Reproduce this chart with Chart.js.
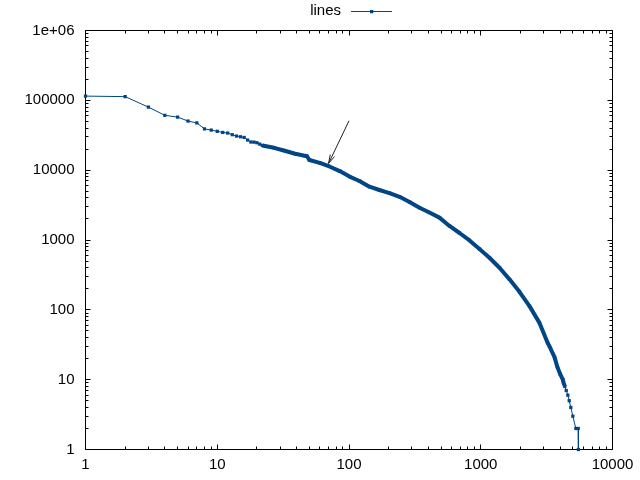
<!DOCTYPE html>
<html>
<head>
<meta charset="utf-8">
<script src="https://cdn.jsdelivr.net/npm/chart.js@4.4.1/dist/chart.umd.min.js"></script>
<style>
  html, body { margin: 0; padding: 0; background: #fff; }
  canvas { display: block; }
</style>
</head>
<body>
<canvas id="rankChart" width="640" height="480"></canvas>
<script>
// --- Data ---
const ranks = [1, 2, 3, 4, 5, 6, 7, 8, 9, 10, 11, 12, 13, 14, 15, 16, 17, 18, 19, 20, 21, 22,
  27, 32, 39, 46, 48, 50, 60, 71, 85, 101, 120, 143, 170, 203, 242, 288,
  343, 408, 486, 579, 690, 822, 978, 1165, 1388, 1653,
  1968, 2344, 2792, 3211, 3325, 3630, 3823, 4009, 4198, 4250,
  4348, 4454, 4582, 4692, 4827, 5000, 5268, 5495, 5510];
const counts = [115000, 113000, 80000, 61000, 57500, 50500, 47500, 39000, 37500, 36000,
  34700, 34000, 32200, 30800, 30100, 29400, 27000, 25300, 25200, 24700, 23600, 22600,
  20900, 19100, 17200, 16100, 15800, 14000, 12700, 11300, 9700, 8100, 7000, 5800, 5200, 4700, 4150, 3500,
  2900, 2470, 2090, 1590, 1260, 985, 745, 557, 401, 273,
  181, 113, 65, 34, 30, 21, 15, 12, 10, 9,
  8, 7, 6, 5, 4, 3, 2, 2, 1];
const xTickValues = [1, 10, 100, 1000, 10000];
const xTickLabels = ["1", "10", "100", "1000", "10000"];
const yTickValues = [1, 10, 100, 1000, 10000, 100000, 1000000];
const yTickLabels = ["1", "10", "100", "1000", "10000", "100000", "1e+06"];
const seriesName = "lines";
const arrowFrom = [100, 51000];
const arrowTo = [70, 12500];

const lineColor = "#004586";
const fontFamily = "'Liberation Sans', Arial, sans-serif";

// --- Frame, inward ticks (major + minor, mirrored), key and arrow ---
const gnuplotDecor = {
  id: "gnuplotDecor",
  beforeDatasetsDraw(chart) {
    const { ctx, chartArea: a, scales: { x, y } } = chart;
    ctx.save();
    ctx.strokeStyle = "#000";
    ctx.lineWidth = 1;
    ctx.beginPath();
    for (let d = 1; d <= x.max; d *= 10) {
      for (let m = 1; m <= 9; m++) {
        const v = m * d;
        if (v > x.max) break;
        const len = m === 1 ? 5 : 3;
        const px = Math.floor(x.getPixelForValue(v)) + 0.5;
        ctx.moveTo(px, a.bottom); ctx.lineTo(px, a.bottom - len);
        ctx.moveTo(px, a.top); ctx.lineTo(px, a.top + len);
      }
    }
    for (let d = 1; d <= y.max; d *= 10) {
      for (let m = 1; m <= 9; m++) {
        const v = m * d;
        if (v > y.max) break;
        const len = m === 1 ? 5 : 3;
        const py = Math.floor(y.getPixelForValue(v)) + 0.5;
        ctx.moveTo(a.left, py); ctx.lineTo(a.left + len, py);
        ctx.moveTo(a.right, py); ctx.lineTo(a.right - len, py);
      }
    }
    ctx.rect(a.left, a.top, a.right - a.left, a.bottom - a.top);
    ctx.stroke();

    // key at top centre: text, then sample line with a point
    ctx.font = "15px " + fontFamily;
    ctx.fillStyle = "#000";
    ctx.textAlign = "right";
    ctx.textBaseline = "middle";
    ctx.fillText(seriesName, 341, 11);
    ctx.strokeStyle = lineColor;
    ctx.beginPath();
    ctx.moveTo(351, 11.5); ctx.lineTo(392, 11.5);
    ctx.stroke();
    ctx.fillStyle = lineColor;
    ctx.fillRect(370, 10, 3.3, 3.3);
    ctx.restore();
  },
  afterDatasetsDraw(chart) {
    const { ctx, scales: { x, y } } = chart;
    const x0 = x.getPixelForValue(arrowFrom[0]), y0 = y.getPixelForValue(arrowFrom[1]);
    const x1 = x.getPixelForValue(arrowTo[0]), y1 = y.getPixelForValue(arrowTo[1]);
    const ang = Math.atan2(y1 - y0, x1 - x0);
    const head = 9, spread = Math.PI / 12;
    ctx.save();
    ctx.strokeStyle = "#222";
    ctx.lineWidth = 1;
    ctx.beginPath();
    ctx.moveTo(x0, y0); ctx.lineTo(x1, y1);
    ctx.moveTo(x1 - head * Math.cos(ang - spread), y1 - head * Math.sin(ang - spread));
    ctx.lineTo(x1, y1);
    ctx.lineTo(x1 - head * Math.cos(ang + spread), y1 - head * Math.sin(ang + spread));
    ctx.stroke();
    ctx.restore();
  }
};

const ctx = document.getElementById("rankChart").getContext("2d");
new Chart(ctx, {
  type: "line",
  data: {
    datasets: [{
      label: seriesName,
      data: ranks.map((r, i) => ({ x: r, y: counts[i] })),
      borderColor: lineColor,
      backgroundColor: lineColor,
      borderWidth: 1,
      borderJoinStyle: "round",
      pointStyle: "rect",
      pointRadius: 2.3,
      pointBorderWidth: 0,
      pointBackgroundColor: lineColor,
      tension: 0,
      clip: false,
      segment: {
        borderWidth: c => (c.p0.parsed.x >= 22 && c.p0.parsed.x < 4300 ? 4 : 1)
      }
    }]
  },
  options: {
    responsive: false,
    animation: false,
    events: [],
    layout: { padding: { top: 30.5, right: 27.5, left: 0, bottom: 0 } },
    plugins: {
      legend: { display: false },
      tooltip: { enabled: false }
    },
    scales: {
      x: {
        type: "logarithmic",
        min: 1,
        max: 10000,
        grid: { display: false, drawTicks: false },
        border: { display: false },
        afterBuildTicks: s => { s.ticks = xTickValues.map(v => ({ value: v })); },
        afterFit: s => { s.height = 30.5; },
        ticks: {
          padding: 6,
          color: "#000",
          maxRotation: 0,
          autoSkip: false,
          font: { family: fontFamily, size: 15 },
          callback: (v, i) => xTickLabels[i]
        }
      },
      y: {
        type: "logarithmic",
        min: 1,
        max: 1000000,
        grid: { display: false, drawTicks: false },
        border: { display: false },
        afterBuildTicks: s => { s.ticks = yTickValues.map(v => ({ value: v })); },
        afterFit: s => { s.width = 85.5; },
        ticks: {
          padding: 11,
          color: "#000",
          autoSkip: false,
          font: { family: fontFamily, size: 15 },
          callback: (v, i) => yTickLabels[i]
        }
      }
    }
  },
  plugins: [gnuplotDecor]
});
</script>
</body>
</html>
